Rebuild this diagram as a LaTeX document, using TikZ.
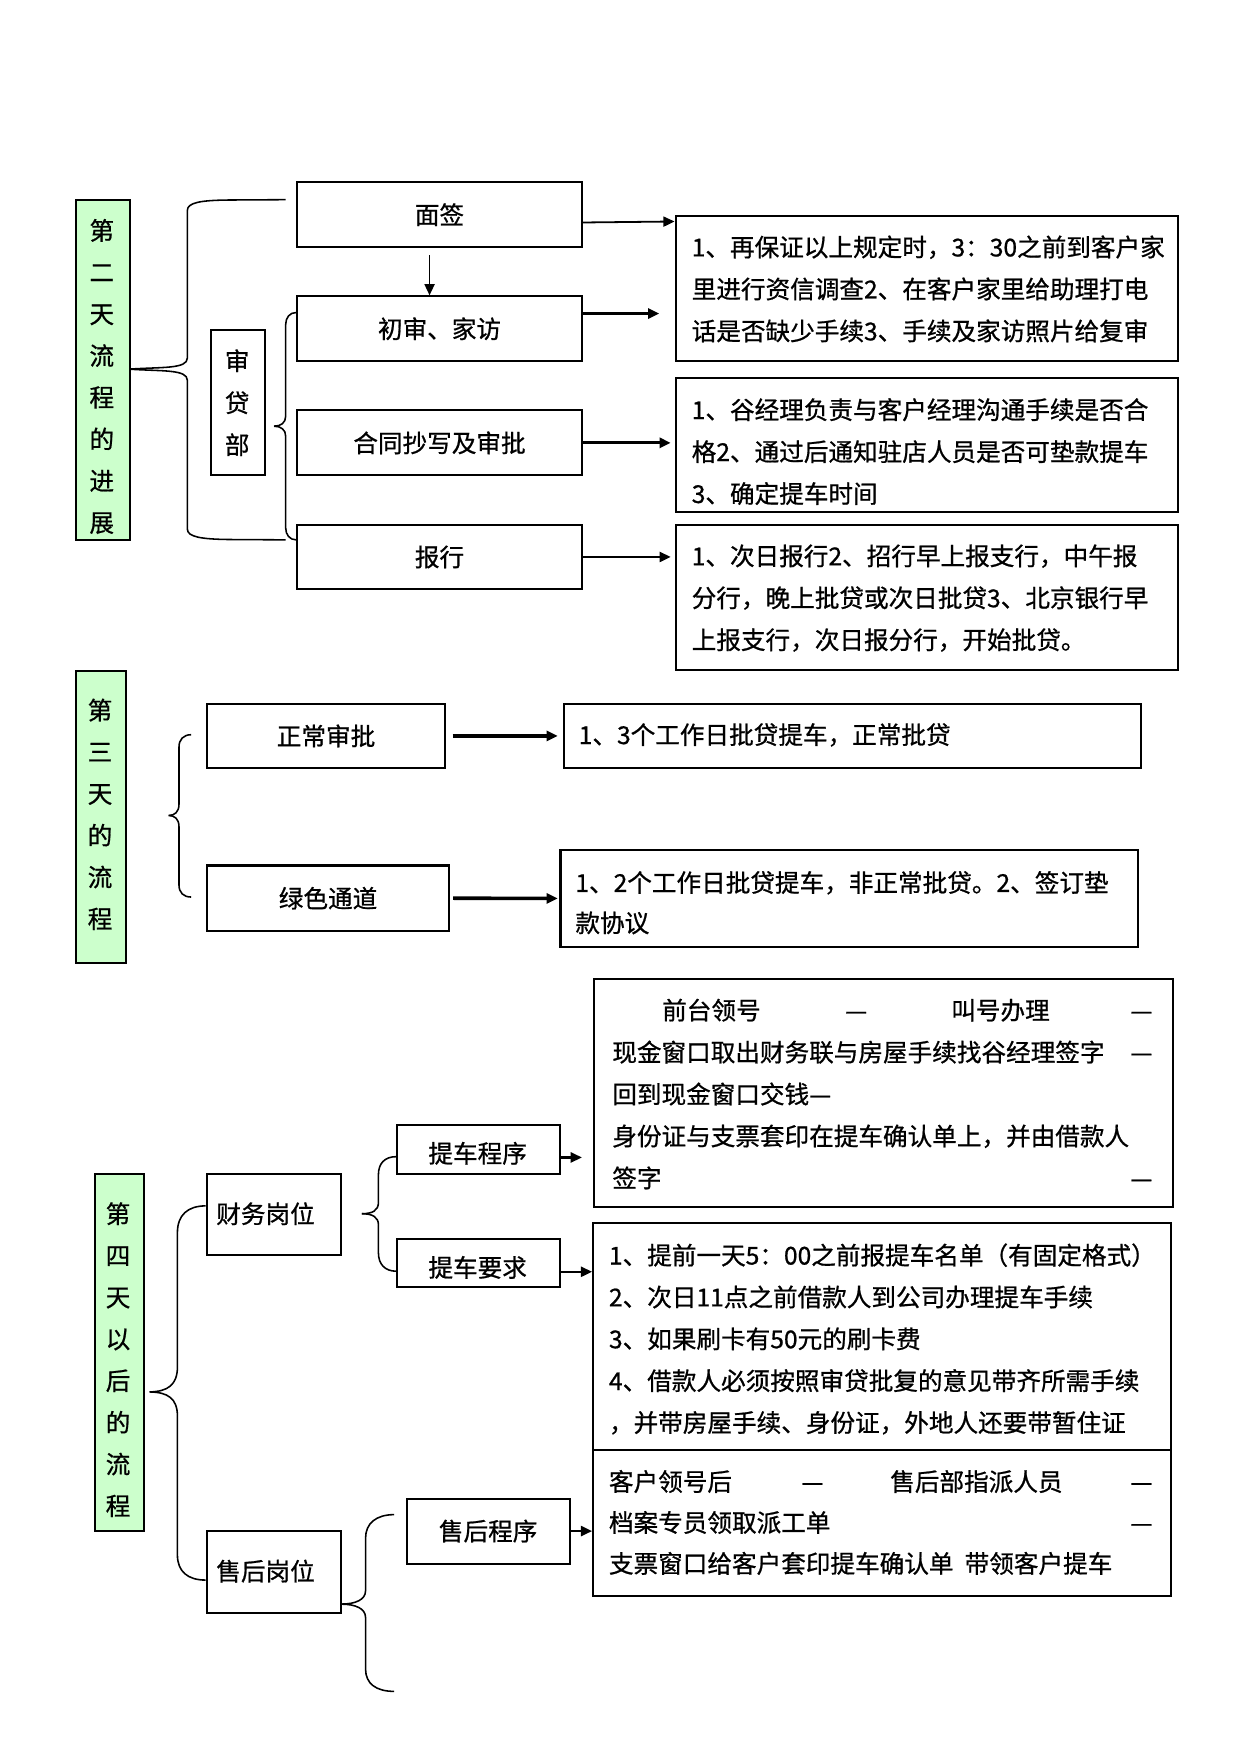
\documentclass[tikz,border=0pt]{standalone}
\usepackage{fontspec}
\setmainfont{Noto Sans CJK SC}[FakeBold=0.8]
\usetikzlibrary{arrows.meta}
\definecolor{gfill}{HTML}{CCFFCC}
\begin{document}
\begin{tikzpicture}[x=0.5pt,y=-0.5pt, font=\fontsize{11}{18.75}\selectfont,
  box/.style={draw, line width=0.9pt, inner sep=0pt, anchor=north west},
  gbox/.style={box, fill=gfill},
  arr/.style={-{Triangle[length=5pt,width=4.5pt]}, line width=1pt},
  brace/.style={line width=0.7pt},
  lines/.style={anchor=west, align=left, inner sep=0pt},
  vert/.style={align=center, inner sep=0pt, font=\fontsize{11}{18.65}\selectfont},
  lbl/.style={inner sep=0pt}]
\path[use as bounding box] (0,0) rectangle (1109,1568);

% ---------------- Section 1 ----------------
\node[gbox, minimum width=24pt, minimum height=152pt] (A) at (67,178) {};
\node[vert] (At) at (91,336.5) {第\\二\\天\\流\\程\\的\\进\\展};

\node[box, minimum width=127pt, minimum height=29pt] (mianqian) at (265,162) {面签};
\node[box, minimum width=127pt, minimum height=29pt] (chushen) at (265,264) {初审、家访};
\node[box, minimum width=127pt, minimum height=29pt] (hetong) at (265,366) {合同抄写及审批};
\node[box, minimum width=127pt, minimum height=29pt] (baohang) at (265,468) {报行};
\node[box, minimum width=24pt, minimum height=65pt] (sdb) at (188,294) {};
\node[vert, font=\fontsize{11}{18.75}\selectfont] (sdbt) at (212,360) {审\\贷\\部};

\node[box, minimum width=224.5pt, minimum height=65pt] (D1) at (603,192) {};
\node[box, minimum width=224.5pt, minimum height=60pt] (D2) at (603,337) {};
\node[box, minimum width=224.5pt, minimum height=65pt] (D3) at (603,468) {};
\node[lines] (D1t) at (618,258.3) {1、再保证以上规定时，3：30之前到客户家\\里进行资信调查2、在客户家里给助理打电\\话是否缺少手续3、手续及家访照片给复审};
\node[lines] (D2t) at (618,403.7) {1、谷经理负责与客户经理沟通手续是否合\\格2、通过后通知驻店人员是否可垫款提车\\3、确定提车时间};
\node[lines] (D3t) at (618,534.7) {1、次日报行2、招行早上报支行，中午报\\分行，晚上批贷或次日批贷3、北京银行早\\上报支行，次日报分行，开始批贷。};

% arrows section 1
\coordinate (mqa) at (384,228);
\draw[arr, line width=0.8pt] (mqa) -- (mqa |- chushen.north);
\draw[arr, line width=0.8pt] ([yshift=-3.5pt]mianqian.east) -- ([yshift=-3pt]D1.north west);
\draw[arr, line width=1.6pt] ([yshift=6.8pt]chushen.east) -- ++(68.5,0);
\draw[arr, line width=1.3pt] (hetong.east) -- ++(78.8,0);
\draw[arr, line width=1pt] (baohang.east) -- ++(78.8,0);

% braces section 1
\coordinate (Atip) at (115.5,330);
\coordinate (Atop) at (255.4,178.5);
\coordinate (Abot) at (255.4,482.6);
\draw[brace] (Atip) .. controls (145,328) and (167.5,330) .. (167.5,320) -- (167.5,188)
  .. controls (167.5,181) and (180,179) .. (205,178.8) -- (Atop);
\draw[brace] (Atip) .. controls (145,332) and (167.5,330) .. (167.5,340) -- (167.5,473)
  .. controls (167.5,480) and (180,482) .. (205,482.3) -- (Abot);
\coordinate (Stip) at (245,381);
\coordinate (Stop) at (264.6,279.4);
\coordinate (Sbot) at (264.6,482.6);
\draw[brace] (Stip) .. controls (251,381) and (255.4,378) .. (255.4,372) -- (255.4,290)
  .. controls (255.4,284) and (259,279.4) .. (Stop);
\draw[brace] (Stip) .. controls (251,381) and (255.4,384) .. (255.4,390) -- (255.4,472)
  .. controls (255.4,478) and (259,482.6) .. (Sbot);

% ---------------- Section 2 ----------------
\node[gbox, minimum width=22pt, minimum height=130.65pt] (B) at (67.4,598.7) {};
\node[vert] (Bt) at (89.4,728) {第\\三\\天\\的\\流\\程};
\node[box, minimum width=106.75pt, minimum height=29pt] (normal) at (183.8,628) {正常审批};
\node[box, minimum width=108.15pt, minimum height=29.15pt, line width=1.1pt] (green) at (184,772.7) {绿色通道};
\node[box, minimum width=258pt, minimum height=29pt] (E1) at (503,628) {};
\node[box, minimum width=258pt, minimum height=43.35pt, line width=1.1pt] (E2) at (500,758.7) {};
\node[lines] (E1t) at (517,657) {1、3个工作日批贷提车，正常批贷};
\node[lines, font=\fontsize{11}{18}\selectfont] (E2t) at (514,807) {1、2个工作日批贷提车，非正常批贷。2、签订垫\\款协议};
\draw[arr, line width=1.6pt] ([xshift=2.75pt]normal.east) -- ([xshift=-2.2pt]E1.west);
\draw[arr, line width=1.6pt] ([xshift=1.3pt]green.east) -- ([xshift=-0.7pt]E2.west);
\coordinate (Btip) at (150.8,729);
\coordinate (Btop) at (170.9,656.8);
\coordinate (Bbot) at (170.9,801.9);
\draw[brace] (Btip) .. controls (156,729) and (160,726) .. (160,719) -- (160,668)
  .. controls (160,661) and (164,656.8) .. (Btop);
\draw[brace] (Btip) .. controls (156,729) and (160,732) .. (160,739) -- (160,791)
  .. controls (160,798) and (164,801.9) .. (Bbot);

% ---------------- Section 3 ----------------
\node[gbox, minimum width=21.9pt, minimum height=159.7pt] (C) at (83.6,1048.6) {};
\node[vert] (Ct) at (105.5,1215.5) {第\\四\\天\\以\\后\\的\\流\\程};
\node[box, minimum width=60.2pt, minimum height=36.2pt] (caiwu) at (183.8,1048.6) {};
\node[lbl, anchor=west] (caiwut) at (193,1085) {财务岗位};
\node[box, minimum width=60.2pt, minimum height=36.3pt] (shouhou) at (183.8,1368) {};
\node[lbl, anchor=west] (shouhout) at (193,1404.5) {售后岗位};
\node[box, minimum width=73pt, minimum height=21.8pt] (tcp) at (354,1005) {};
\node[lbl] (tcpt) at (427,1031) {提车程序};
\node[box, minimum width=73pt, minimum height=21.5pt] (tcy) at (354,1107) {};
\node[lbl] (tcyt) at (427,1133) {提车要求};
\node[box, minimum width=72.9pt, minimum height=29pt] (shcx) at (362.6,1338.8) {售后程序};

\node[box, minimum width=258.7pt, minimum height=101.85pt] (F1) at (530.3,874) {};
\node[box, minimum width=258.5pt, minimum height=101.7pt] (F2) at (529,1092) {};
\node[box, minimum width=258.5pt, minimum height=65.3pt] (F3) at (529,1295.4) {};

\node[lines] (F1t) at (547,978) {%
\makebox[242pt][l]{\hspace{22.3pt}前台领号\hspace{37.2pt}\makebox[11pt]{—}\hspace{37pt}叫号办理\hfill\makebox[11pt]{—}}\\
\makebox[242pt][l]{现金窗口取出财务联与房屋手续找谷经理签字\hfill\makebox[11pt]{—}}\\
回到现金窗口交钱—\\
身份证与支票套印在提车确认单上，并由借款人\\
\makebox[242pt][l]{签字\hfill\makebox[11pt]{—}}};
\node[lines, font=\fontsize{11}{18.7}\selectfont] (F2t) at (544,1197) {1、提前一天5：00之前报提车名单（有固定格式）\\2、次日11点之前借款人到公司办理提车手续\\3、如果刷卡有50元的刷卡费\\4、借款人必须按照审贷批复的意见带齐所需手续\\，并带房屋手续、身份证，外地人还要带暂住证};
\node[lines, font=\fontsize{11}{18.3}\selectfont] (F3t) at (544,1361) {%
\makebox[243.5pt][l]{客户领号后\hspace{30.5pt}\makebox[11pt]{—}\hspace{29.25pt}售后部指派人员\hfill\makebox[11pt]{—}}\\
\makebox[243.5pt][l]{档案专员领取派工单\hfill\makebox[11pt]{—}}\\
支票窗口给客户套印提车确认单\hspace{5pt}带领客户提车};

% arrows section 3
\draw[arr] ([yshift=-3.5pt]tcp.east) -- ++(18.4,0);
\draw[arr] ([yshift=-3.75pt]tcy.east) -- ++(27.5,0);
\draw[arr] (shcx.east) -- ++(19.1,0);

% braces section 3
\coordinate (Ctip) at (133.7,1244.3);
\coordinate (Ctop) at (183.8,1078);
\coordinate (Cbot) at (183.8,1412.5);
\draw[brace] (Ctip) .. controls (150,1244) and (158.6,1238) .. (158.6,1222) -- (158.6,1102)
  .. controls (158.6,1086) and (168,1078) .. (Ctop);
\draw[brace] (Ctip) .. controls (150,1244.6) and (158.6,1250) .. (158.6,1266) -- (158.6,1390)
  .. controls (158.6,1405) and (168,1412.5) .. (Cbot);
\coordinate (Ftip) at (323.5,1085);
\coordinate (Ftop) at (354.2,1034);
\coordinate (Fbot) at (354.2,1136.4);
\draw[brace] (Ftip) .. controls (333,1085) and (338.3,1082) .. (338.3,1075) -- (338.3,1050)
  .. controls (338.3,1040) and (344,1034) .. (Ftop);
\draw[brace] (Ftip) .. controls (333,1085) and (338.3,1088) .. (338.3,1095) -- (338.3,1120)
  .. controls (338.3,1130) and (344,1136.4) .. (Fbot);
\coordinate (Htip) at (304.5,1434);
\coordinate (Htop) at (352.4,1354);
\coordinate (Hbot) at (352.4,1512);
\draw[brace] (Htip) .. controls (318,1434) and (326.8,1430) .. (326.8,1422) -- (326.8,1375)
  .. controls (326.8,1362) and (336,1354) .. (Htop);
\draw[brace] (Htip) .. controls (318,1434) and (326.8,1438) .. (326.8,1446) -- (326.8,1492)
  .. controls (326.8,1505) and (336,1512) .. (Hbot);
\end{tikzpicture}
\end{document}
